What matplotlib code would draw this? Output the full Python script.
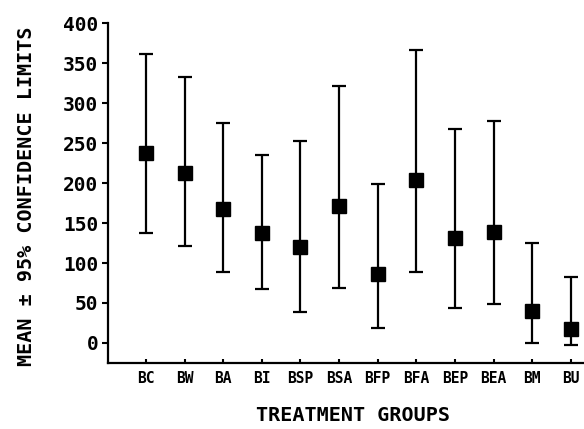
import matplotlib
matplotlib.use("Agg")
import matplotlib.pyplot as plt
import numpy as np

groups = ["BC", "BW", "BA", "BI", "BSP", "BSA", "BFP", "BFA", "BEP", "BEA", "BM", "BU"]
means = [237, 213, 168, 137, 120, 171, 86, 204, 131, 139, 40, 17]
upper = [361, 333, 275, 235, 252, 322, 199, 367, 267, 277, 125, 82]
lower = [138, 121, 89, 67, 39, 69, 19, 89, 44, 49, 0, -3]

plt.rcParams['font.family'] = ['DejaVu Sans Mono']
plt.rcParams['font.weight'] = 'bold'
fig = plt.figure(figsize=(5.84, 4.29), dpi=100)
ax = fig.add_axes([0.185, 0.154, 0.813, 0.792])

x = np.arange(len(groups))
m = np.array(means); u = np.array(upper); l = np.array(lower)
ax.errorbar(x, m, yerr=[m - l, u - m], fmt='s', color='black', ms=10,
            ecolor='black', elinewidth=1.6, capsize=5, capthick=1.6)

ax.set_xlim(-0.98, 11.31)
ax.set_ylim(-25, 400)
ax.set_yticks(range(0, 401, 50))
ax.set_xticks(x)
ax.set_xticklabels(groups, fontsize=10.5, fontweight='bold')
ax.set_yticklabels([str(v) for v in range(0, 401, 50)], fontsize=14, fontweight='bold')
ax.tick_params(axis='y', direction='out', length=4, width=1.5, pad=3)
ax.tick_params(axis='x', direction='in', length=3, width=1.5, pad=6)
for s in ['top', 'right']:
    ax.spines[s].set_visible(False)
for s in ['left', 'bottom']:
    ax.spines[s].set_linewidth(1.6)
ax.set_xlabel("TREATMENT GROUPS", fontsize=14.5, fontweight='bold')
ax.set_ylabel("MEAN \u00b1 95% CONFIDENCE LIMITS", fontsize=14.5, fontweight='bold')
ax.xaxis.set_label_coords(0.516, -0.128)
ax.yaxis.set_label_coords(-0.152, 0.49)
fig.savefig("out.png", dpi=100)
